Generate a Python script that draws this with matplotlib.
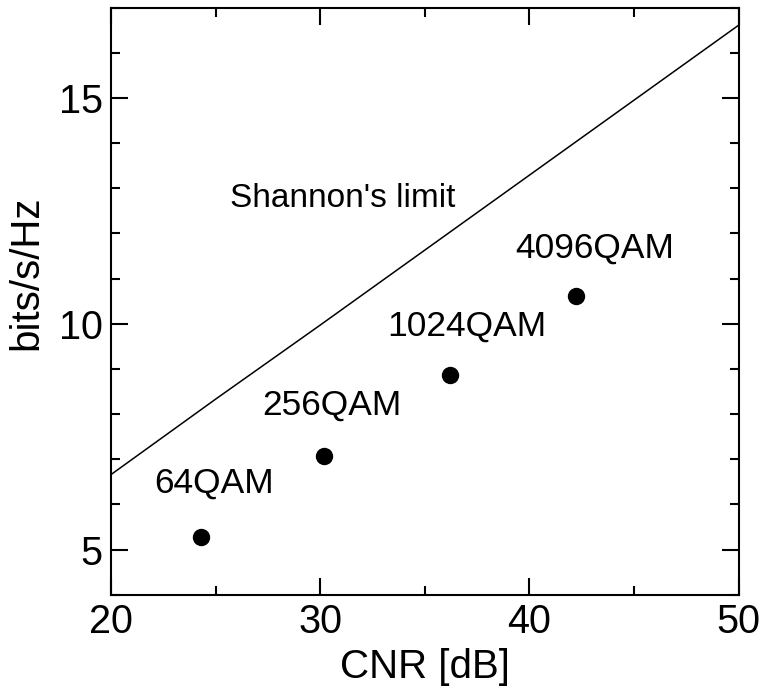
import matplotlib
matplotlib.use('Agg')
import matplotlib.pyplot as plt
from matplotlib.ticker import MultipleLocator

plt.rc('font', family='Liberation Sans')

# Shannon's limit
cnr_limit = [20, 25, 30, 35, 40, 45, 50]
bits_limit = [6.66, 8.33, 9.97, 11.63, 13.29, 14.95, 16.61]

# QAM measurement points
qam_names = ['64QAM', '256QAM', '1024QAM', '4096QAM']
qam_cnr = [24.3, 30.2, 36.2, 42.2]
qam_bits = [5.28, 7.07, 8.86, 10.62]

# label anchors (left, baseline) for the QAM names
label_x = [22.06, 27.23, 33.19, 39.31]
label_y = [6.25, 7.99, 9.73, 11.47]


fig = plt.figure(figsize=(7.64, 6.90), dpi=100)
ax1 = fig.add_axes([0.1453, 0.1381, 0.8216, 0.8510])

ax1.plot(cnr_limit, bits_limit, color='black', linewidth=1.1)
ax1.plot(qam_cnr, qam_bits, 'o', color='black', markersize=11.5)

for name, x, y in zip(qam_names, label_x, label_y):
    ax1.text(x, y, name, fontsize=25.5, ha='left', va='baseline')
ax1.text(25.69, 12.58, "Shannon's limit", fontsize=24, ha='left', va='baseline')

ax1.set_xlim(20, 50)
ax1.set_ylim(4, 17)
ax1.xaxis.set_major_locator(MultipleLocator(10))
ax1.xaxis.set_minor_locator(MultipleLocator(5))
ax1.yaxis.set_major_locator(MultipleLocator(5))
ax1.yaxis.set_minor_locator(MultipleLocator(1))
ax1.tick_params(which='both', direction='in', top=True, right=True, width=1.5)
ax1.tick_params(which='major', length=12.5, labelsize=28.5, pad=6)
ax1.tick_params(which='minor', length=6.5)
for sp in ax1.spines.values():
    sp.set_linewidth(1.5)

ax1.set_xlabel('CNR [dB]', fontsize=29)
ax1.set_ylabel('bits/s/Hz', fontsize=29)
ax1.xaxis.set_label_coords(0.5, -0.09)
ax1.yaxis.set_label_coords(-0.105, 0.549)

plt.savefig('out.png', dpi=100)
plt.close()
